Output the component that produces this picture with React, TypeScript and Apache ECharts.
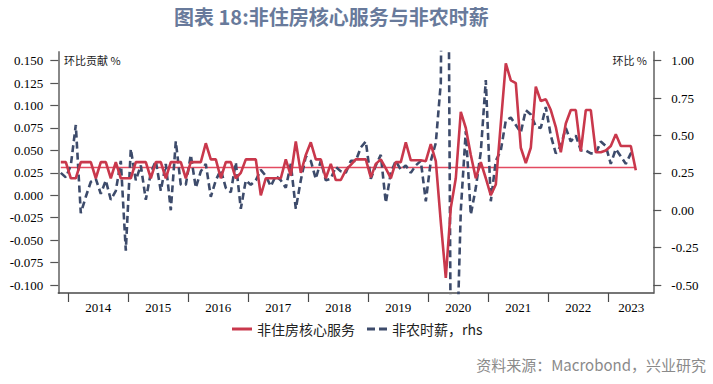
import React, { useEffect, useRef } from "react";
import * as echarts from "echarts";

// month index: 0 = Jan 2014; data starts Nov 2013 (index -2)
const startMonth = -2;

// 非住房核心服务 环比贡献 (%), left axis
const coreServicesExHousing = [
  0.037, 0.037, 0.019, 0.019, 0.037, 0.037, 0.037, 0.019, 0.037, 0.037, 0.019, 0.037, 0.019, 0.019,
  0.019, 0.037, 0.037, 0.037, 0.019, 0.037, 0.037, 0.019, 0.037, 0.037, 0.037, 0.019,
  0.037, 0.037, 0.037, 0.058, 0.040, 0.040, 0.019, 0.037, 0.037, 0.019, 0.025, 0.040,
  0.040, 0.040, 0.000, 0.019, 0.019, 0.019, 0.019, 0.040, 0.022, 0.060, 0.025, 0.045,
  0.059, 0.040, 0.040, 0.019, 0.035, 0.017, 0.017, 0.028, 0.034, 0.040, 0.040, 0.040,
  0.020, 0.035, 0.040, 0.030, 0.019, 0.037, 0.037, 0.059, 0.039, 0.039, 0.039, 0.038,
  0.057, 0.038, -0.030, -0.092, -0.014, 0.019, 0.093, 0.075, 0.045, 0.019, 0.037, 0.019,
  0.000, 0.012, 0.080, 0.147, 0.128, 0.125, 0.053, 0.036, 0.053, 0.121, 0.105, 0.107,
  0.095, 0.076, 0.048, 0.080, 0.095, 0.095, 0.049, 0.095, 0.095, 0.048, 0.048, 0.050,
  0.055, 0.068, 0.055, 0.055, 0.055, 0.028,
];

// 非农时薪 环比 (%), right axis
const hourlyEarnings = [
  0.25, 0.22, 0.30, 0.57, -0.02, 0.09, 0.19, 0.21, 0.11, 0.20, 0.07, 0.13, 0.33, -0.27,
  0.41, 0.20, 0.30, 0.07, 0.25, 0.33, 0.13, 0.31, 0.00, 0.46, 0.17, 0.17,
  0.37, 0.15, 0.26, 0.31, 0.09, 0.20, 0.27, 0.15, 0.12, 0.32, 0.01, 0.20,
  0.17, 0.20, 0.27, 0.23, 0.16, 0.23, 0.20, 0.15, 0.31, 0.01, 0.20, 0.36,
  0.33, 0.21, 0.33, 0.20, 0.21, 0.29, 0.26, 0.25, 0.33, 0.33, 0.42, 0.46,
  0.21, 0.30, 0.37, 0.05, 0.25, 0.33, 0.27, 0.30, 0.25, 0.30, 0.33, 0.06,
  0.33, 0.45, 0.85, 4.70, -1.00, -1.20, 0.00, 0.53, -0.03, 0.15, 0.39, 0.87,
  0.06, 0.33, 0.40, 0.60, 0.62, 0.57, 0.52, 0.67, 0.64, 0.56, 0.55, 0.69,
  0.50, 0.38, 0.43, 0.55, 0.46, 0.50, 0.40, 0.40, 0.38, 0.38, 0.46, 0.43,
  0.31, 0.41, 0.36, 0.31, 0.38, 0.38,
];

const referenceLevel = 0.031;

const years = [2014, 2015, 2016, 2017, 2018, 2019, 2020, 2021, 2022, 2023];
const leftTicks = [-0.1, -0.075, -0.05, -0.025, 0, 0.025, 0.05, 0.075, 0.1, 0.125, 0.15];
const rightTicks = [-0.5, -0.25, 0, 0.25, 0.5, 0.75, 1.0];

const RED = "#c9384c";
const NAVY = "#3d4b6b";
const MEAN = "#e34a60";
const SERIF = "'Liberation Serif', 'Times New Roman', serif";
const CJK = "'Noto Sans CJK SC', sans-serif";

export default function App() {
  const ref = useRef<HTMLDivElement>(null);

  useEffect(() => {
    if (!ref.current) return;
    const chart = echarts.init(ref.current, undefined, { renderer: "svg" });
    const pos = (i: number) => startMonth + i + 0.5;
    const redData = coreServicesExHousing.map((v, i) => [pos(i), v]);
    const navyData = hourlyEarnings.map((v, i) => [pos(i), v]);
    const refData = coreServicesExHousing.map((_, i) => [pos(i), referenceLevel]);
    const yearTicks = years.map((_, i) => i * 12);
    const yearLabels = years.map((_, i) => (i === years.length - 1 ? i * 12 + 4.6 : i * 12 + 6));

    chart.setOption({
      animation: false,
      backgroundColor: "#ffffff",
      grid: { left: 58.3, right: 59.7, top: 52, bottom: 91, containLabel: false },
      legend: {
        left: 227,
        top: 317,
        itemWidth: 20,
        itemHeight: 3,
        itemGap: 12,
        textStyle: { fontFamily: CJK, fontSize: 14, color: "#222" },
        data: [
          { name: "非住房核心服务", icon: "rect" },
          { name: "非农时薪，rhs", icon: "path://M0,0H8V3H0Z M12,0H20V3H12Z" },
        ],
      },
      xAxis: {
        type: "value",
        min: -2,
        max: 117,
        splitLine: { show: false },
        axisLine: { show: true, onZero: false, lineStyle: { color: "#4a4a4a", width: 1.5 } },
        axisTick: {
          show: true,
          customValues: yearTicks,
          length: 9,
          lineStyle: { color: "#4a4a4a", width: 1.2 },
        },
        axisLabel: {
          customValues: yearLabels,
          formatter: (v: number) => String(years[Math.min(years.length - 1, Math.floor(v / 12))]),
          fontFamily: SERIF,
          fontSize: 13,
          color: "#000",
          margin: 8,
        },
      },
      yAxis: [
        {
          type: "value",
          min: -0.1089,
          max: 0.1597,
          position: "left",
          splitLine: { show: false },
          axisLine: { show: true, onZero: false, lineStyle: { color: "#888", width: 2 } },
          axisTick: { show: true, customValues: leftTicks, length: 8, lineStyle: { color: "#555", width: 1.2 } },
          axisLabel: {
            customValues: leftTicks,
            formatter: (v: number) => v.toFixed(3),
            fontFamily: SERIF,
            fontSize: 13,
            color: "#000",
            margin: 15,
          },
        },
        {
          type: "value",
          min: -0.5534,
          max: 1.0582,
          position: "right",
          splitLine: { show: false },
          axisLine: { show: true, onZero: false, lineStyle: { color: "#888", width: 2 } },
          axisTick: { show: true, customValues: rightTicks, length: 8, lineStyle: { color: "#555", width: 1.2 } },
          axisLabel: {
            customValues: rightTicks,
            formatter: (v: number) => v.toFixed(2),
            fontFamily: SERIF,
            fontSize: 13,
            color: "#000",
            margin: 18,
          },
        },
      ],
      series: [
        {
          name: "均值",
          type: "line",
          yAxisIndex: 0,
          data: refData,
          showSymbol: false,
          symbol: "none",
          silent: true,
          color: MEAN,
          itemStyle: { color: MEAN },
          lineStyle: { color: MEAN, width: 1.3, opacity: 1 },
          z: 1,
        },
        {
          name: "非住房核心服务",
          type: "line",
          yAxisIndex: 0,
          data: redData,
          symbol: "none",
          color: RED,
          lineStyle: { color: RED, width: 2.6 },
          itemStyle: { color: RED },
          z: 3,
        },
        {
          name: "非农时薪，rhs",
          type: "line",
          yAxisIndex: 1,
          data: navyData,
          symbol: "none",
          color: NAVY,
          lineStyle: { color: NAVY, width: 2.6, type: [7, 4] },
          itemStyle: { color: NAVY },
          z: 2,
        },
      ],
      graphic: [
        {
          type: "text",
          left: 174,
          top: 6,
          style: {
            text: "图表 18:非住房核心服务与非农时薪",
            font: `bold 20px ${CJK}`,
            fill: "#687a9b",
          },
        },
        {
          type: "text",
          x: 64,
          y: 60,
          style: {
            text: "环比贡献 %",
            font: `11px ${CJK}`,
            fill: "#222",
            verticalAlign: "middle",
          },
        },
        {
          type: "text",
          x: 647,
          y: 60,
          style: {
            text: "环比 %",
            font: `11px ${CJK}`,
            fill: "#222",
            align: "right",
            verticalAlign: "middle",
          },
        },
        {
          type: "text",
          x: 706,
          y: 364,
          style: {
            text: "资料来源：Macrobond，兴业研究",
            font: `15px ${CJK}`,
            fill: "#8a8a8a",
            align: "right",
            verticalAlign: "middle",
          },
        },
      ],
    });
    return () => chart.dispose();
  }, []);

  return (
    <div
      ref={ref}
      style={{ position: "fixed", left: 0, top: 0, width: 713, height: 384, background: "#fff" }}
    />
  );
}
